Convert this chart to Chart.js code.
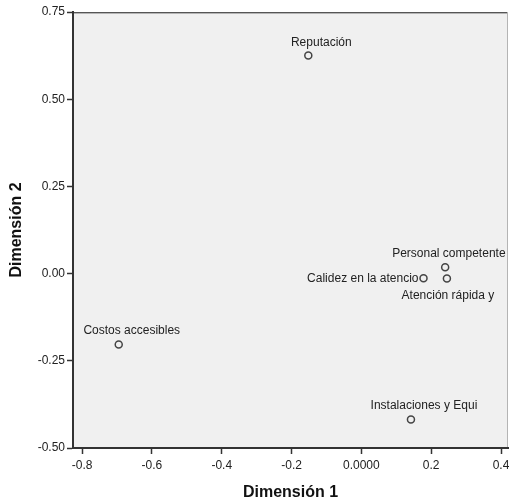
<!DOCTYPE html>
<html>
<head>
<meta charset="utf-8">
<script src="https://cdn.jsdelivr.net/npm/chart.js@4/dist/chart.umd.min.js"></script>
<style>
  html, body { margin: 0; padding: 0; background: #fff; }
  canvas { display: block; }
</style>
</head>
<body>
<canvas id="grafico" width="509" height="501"></canvas>
<script>
// Puntos de objeto (Dimensión 1, Dimensión 2)
const etiquetas = ["Reputación", "Personal competente", "Calidez en la atencio", "Atención rápida y", "Costos accesibles", "Instalaciones y Equi"];
const dim1 = [-0.152, 0.240, 0.178, 0.245, -0.695, 0.142];
const dim2 = [0.625, 0.018, -0.013, -0.014, -0.203, -0.418];

const ticksX = [-0.8, -0.6, -0.4, -0.2, 0, 0.2, 0.4];
const textosX = ["-0.8", "-0.6", "-0.4", "-0.2", "0.0000", "0.2", "0.4"];
const ticksY = [-0.5, -0.25, 0, 0.25, 0.5, 0.75];
const textosY = ["-0.50", "-0.25", "0.00", "0.25", "0.50", "0.75"];

const fuente = "'Liberation Sans', Arial, sans-serif";

// donde va cada etiqueta respecto a su punto
const colocacion = {
  "Reputación": { dx: 13, dy: -10, align: "center" },
  "Personal competente": { dx: -53, dy: -10, align: "left" },
  "Calidez en la atencio": { dx: -5, dy: 4, align: "right" },
  "Atención rápida y": { dx: 1, dy: 21, align: "center" },
  "Costos accesibles": { dx: 13, dy: -10, align: "center" },
  "Instalaciones y Equi": { dx: 13, dy: -10, align: "center" }
};

// el área llega casi al borde derecho, como en SPSS
const bordeDerecho = {
  id: "bordeDerecho",
  afterLayout(chart) {
    const a = chart.chartArea;
    const s = chart.scales.x;
    const r = chart.width - 1;
    a.right = r;
    a.width = a.right - a.left;
    s.right = r;
    s.width = s.right - s.left;
    s.configure();
  }
};

const fondoArea = {
  id: "fondoArea",
  beforeDraw(chart) {
    const { ctx, chartArea: a } = chart;
    ctx.save();
    ctx.fillStyle = "#f0f0f0";
    ctx.fillRect(a.left, a.top, a.right - a.left, a.bottom - a.top);
    ctx.fillStyle = "#555";
    ctx.fillRect(a.left, a.top, a.right - a.left, 1);
    ctx.fillStyle = "#b4b4b4";
    ctx.fillRect(a.left, a.top + 1, a.right - a.left, 1);
    ctx.fillRect(Math.round(a.right) - 1, a.top, 1, a.bottom - a.top);
    ctx.restore();
  }
};

const etiquetasPuntos = {
  id: "etiquetasPuntos",
  afterDatasetsDraw(chart) {
    const { ctx } = chart;
    const meta = chart.getDatasetMeta(0);
    ctx.save();
    ctx.font = "12px " + fuente;
    ctx.fillStyle = "#222";
    ctx.textBaseline = "alphabetic";
    meta.data.forEach((p, i) => {
      const c = colocacion[etiquetas[i]];
      ctx.textAlign = c.align;
      ctx.fillText(etiquetas[i], p.x + c.dx, p.y + c.dy);
    });
    ctx.restore();
  }
};

const ctx = document.getElementById("grafico").getContext("2d");
new Chart(ctx, {
  type: "scatter",
  data: {
    datasets: [{
      data: dim1.map((x, i) => ({ x, y: dim2[i] })),
      pointStyle: "circle",
      pointRadius: 3.5,
      pointHoverRadius: 3.5,
      borderWidth: 1.5,
      borderColor: "#444",
      backgroundColor: "rgba(0,0,0,0)"
    }]
  },
  options: {
    responsive: false,
    animation: false,
    devicePixelRatio: 1,
    layout: { padding: { top: 12, right: 1, left: 0, bottom: 0 } },
    plugins: { legend: { display: false }, tooltip: { enabled: false } },
    scales: {
      x: {
        type: "linear",
        min: -0.826,
        max: 0.42,
        afterBuildTicks: s => { s.ticks = ticksX.map(v => ({ value: v })); },
        afterFit: s => { s.height = 53; },
        grid: { drawOnChartArea: false, drawTicks: true, tickLength: 6, tickWidth: 1.5, tickColor: "#333" },
        border: { display: true, color: "#333", width: 2 },
        ticks: {
          padding: 0,
          color: "#222",
          font: { family: fuente, size: 12, lineHeight: 1.87 },
          maxRotation: 0,
          autoSkip: false,
          callback: (v, i) => textosX[i]
        },
        title: {
          display: true,
          text: "Dimensión 1",
          color: "#111",
          font: { family: fuente, size: 16, weight: "bold", lineHeight: 1 },
          padding: { top: 0, bottom: 0 }
        }
      },
      y: {
        type: "linear",
        min: -0.5,
        max: 0.75,
        afterBuildTicks: s => { s.ticks = ticksY.map(v => ({ value: v })); },
        afterFit: s => { s.width = 73; },
        grid: { drawOnChartArea: false, drawTicks: true, tickLength: 6, tickWidth: 1.5, tickColor: "#333" },
        border: { display: true, color: "#333", width: 2 },
        ticks: {
          padding: 2,
          color: "#222",
          font: { family: fuente, size: 12 },
          autoSkip: false,
          callback: (v, i) => textosY[i]
        },
        title: {
          display: true,
          text: "Dimensión 2",
          color: "#111",
          font: { family: fuente, size: 16, weight: "bold", lineHeight: 1 },
          padding: { top: 9, bottom: 0 }
        }
      }
    }
  },
  plugins: [bordeDerecho, fondoArea, etiquetasPuntos]
});
</script>
</body>
</html>
